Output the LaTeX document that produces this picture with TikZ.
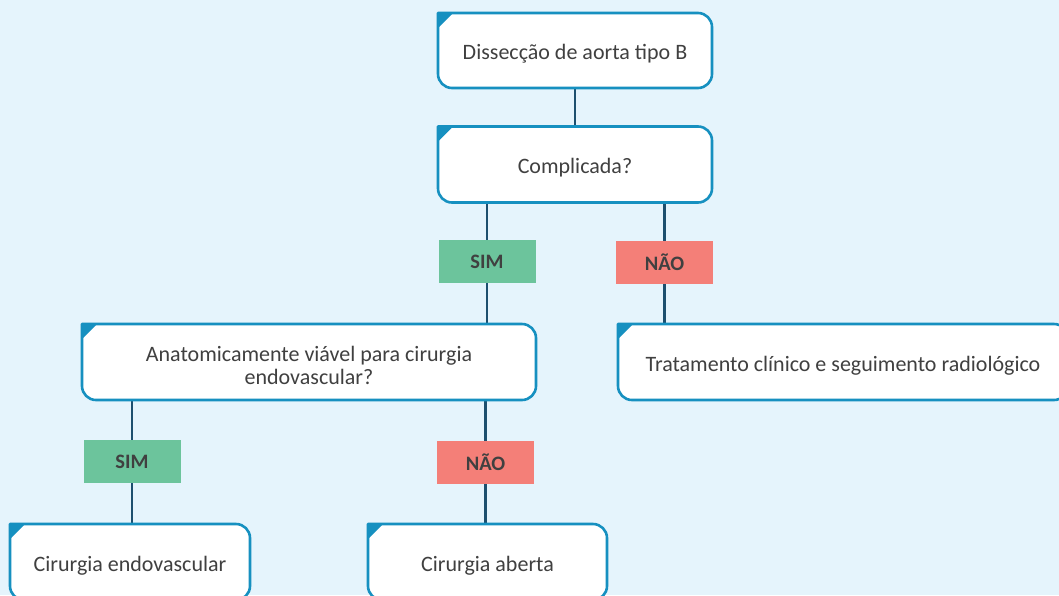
\documentclass[tikz,border=0pt]{standalone}
\usepackage{fontspec}
\setmainfont{Carlito}
\definecolor{bgc}{HTML}{E5F4FC}
\definecolor{boxc}{HTML}{1690C0}
\definecolor{linec}{HTML}{1D4F6E}
\definecolor{simc}{HTML}{6CC49C}
\definecolor{naoc}{HTML}{F47F78}
\definecolor{txtc}{HTML}{404040}
\newcommand\outlinebox[1]{%
  \fill[white] (#1.north west) -- ([xshift=-14pt]#1.north east) arc[start angle=90,end angle=0,radius=14pt] -- ([yshift=14pt]#1.south east) arc[start angle=0,end angle=-90,radius=14pt] -- ([xshift=14pt]#1.south west) arc[start angle=-90,end angle=-180,radius=14pt] -- cycle;
  \fill[boxc] (#1.north west) -- ++(15pt,0) -- ++(-15pt,-15pt) -- cycle;
  \draw[boxline] (#1.north west) -- ([xshift=-14pt]#1.north east) arc[start angle=90,end angle=0,radius=14pt] -- ([yshift=14pt]#1.south east) arc[start angle=0,end angle=-90,radius=14pt] -- ([xshift=14pt]#1.south west) arc[start angle=-90,end angle=-180,radius=14pt] -- cycle;
  \node[txt] at ([yshift=-3.5pt]#1.center) {\csname boxtext#1\endcsname};%
}
\begin{document}
\begin{tikzpicture}[x=1pt,y=1pt,
  boxline/.style={draw=boxc,line width=2.6pt,line join=round},
  flow/.style={rectangle,inner sep=0pt,outer sep=0pt},
  txt/.style={text=txtc,font=\fontsize{22}{23}\selectfont,align=center},
  tag/.style={rectangle,inner sep=0pt,minimum width=97pt,minimum height=43pt,text=txtc,font=\fontsize{20.5}{22}\selectfont\bfseries},
  sim/.style={tag,fill=simc},
  nao/.style={tag,fill=naoc},
  conn/.style={draw=linec,line width=2.2pt}]
\fill[bgc] (0,0) rectangle (1059,-595);
\useasboundingbox (0,0) rectangle (1059,-595);
\clip (0,0) rectangle (1059,-595);
% node frames
\node[flow,minimum width=274pt,minimum height=75pt] (b1) at (575,-50.5) {};
\node[flow,minimum width=274pt,minimum height=76pt] (b2) at (575,-164.5) {};
\node[flow,minimum width=454pt,minimum height=76pt] (b3) at (309,-362) {};
\node[flow,minimum width=450pt,minimum height=76pt] (b4) at (843,-362) {};
\node[flow,minimum width=240pt,minimum height=76pt] (b5) at (130,-562) {};
\node[flow,minimum width=239pt,minimum height=76pt] (b6) at (487.5,-562) {};
\node[sim] (s1) at (487,-261.5) {SIM};
\node[nao] (n1) at (664.5,-262.5) {NÃO};
\node[sim] (s2) at (132,-461.5) {SIM};
\node[nao] (n2) at (485.5,-462.5) {NÃO};
% connectors
\draw[conn] (b1.south) -- (b2.north);
\draw[conn] (b2.south -| s1) -- (s1.north);
\draw[conn] (s1.south) -- (b3.north -| s1);
\draw[conn] (b2.south -| n1) -- (n1.north);
\draw[conn] (n1.south) -- (b4.north -| n1);
\draw[conn] (b3.south -| s2) -- (s2.north);
\draw[conn] (s2.south) -- (b5.north -| s2);
\draw[conn] (b3.south -| n2) -- (n2.north);
\draw[conn] (n2.south) -- (b6.north -| n2);
% labels on top of connectors
\node[sim] at (s1) {SIM};
\node[nao] at (n1) {NÃO};
\node[sim] at (s2) {SIM};
\node[nao] at (n2) {NÃO};
% boxes
\expandafter\def\csname boxtextb1\endcsname{Dissecção de aorta tipo B}
\expandafter\def\csname boxtextb2\endcsname{Complicada?}
\expandafter\def\csname boxtextb3\endcsname{Anatomicamente viável para cirurgia\\endovascular?}
\expandafter\def\csname boxtextb4\endcsname{Tratamento clínico e seguimento radiológico}
\expandafter\def\csname boxtextb5\endcsname{Cirurgia endovascular}
\expandafter\def\csname boxtextb6\endcsname{Cirurgia aberta}
\outlinebox{b1}
\outlinebox{b2}
\outlinebox{b3}
\outlinebox{b4}
\outlinebox{b5}
\outlinebox{b6}
\end{tikzpicture}
\end{document}
